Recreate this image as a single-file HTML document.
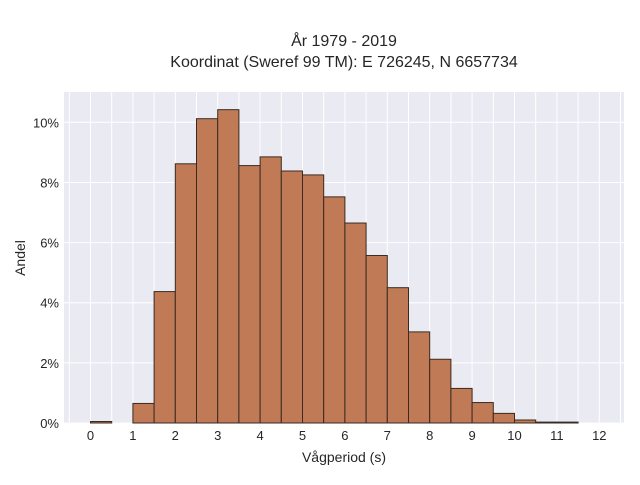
<!DOCTYPE html>
<html><head><meta charset="utf-8"><style>
body{margin:0;background:#fff;font-family:"Liberation Sans",sans-serif;}
svg text{font-family:"Liberation Sans",sans-serif;fill:#262626;}
</style></head><body>
<svg id="chart" width="640" height="480" xmlns="http://www.w3.org/2000/svg">
<text x="344" y="46" text-anchor="middle" font-size="16">År 1979 - 2019</text>
<text x="344" y="67" text-anchor="middle" font-size="16">Koordinat (Sweref 99 TM): E 726245, N 6657734</text>
<rect x="64" y="92" width="560" height="331" fill="#eaeaf2"/>
<g id="grid"></g><g id="bars"></g><g id="ticks"></g>
<text x="344" y="462" text-anchor="middle" font-size="14">Vågperiod (s)</text>
<text transform="translate(25,258) rotate(-90)" text-anchor="middle" font-size="14">Andel</text>
</svg>
<script>
const binStarts=[0,0.5,1,1.5,2,2.5,3,3.5,4,4.5,5,5.5,6,6.5,7,7.5,8,8.5,9,9.5,10,10.5,11];
const shares=[0.05,0,0.65,4.37,8.62,10.12,10.42,8.56,8.85,8.38,8.25,7.52,6.65,5.57,4.5,3.03,2.12,1.15,0.68,0.32,0.1,0.03,0.03];
const xTicks=[0,1,2,3,4,5,6,7,8,9,10,11,12];
const yTicks=[0,2,4,6,8,10];
const binWidth=0.5;
const NS="http://www.w3.org/2000/svg";
const X=v=>90.5+v*42.4;
const Y=v=>423-v*30.07;
const grid=document.getElementById('grid'),bars=document.getElementById('bars'),ticks=document.getElementById('ticks');
function mk(tag,attrs,parent){const e=document.createElementNS(NS,tag);for(const k in attrs)e.setAttribute(k,attrs[k]);parent.appendChild(e);return e;}
for(let v=-0.5;v<=12.5;v+=0.5){
 const l=mk('line',{x1:X(v),x2:X(v),y1:92,y2:423,stroke:'#fff','stroke-width':1},grid);
 
 
}
yTicks.forEach(t=>{
 const l=mk('line',{x1:64,x2:624,y1:Y(t),y2:Y(t),stroke:'#fff','stroke-width':1},grid);
 
 
 const tx=mk('text',{x:59,y:Y(t)+5,'text-anchor':'end','font-size':13},ticks);
 tx.textContent=t+'%';
 
 
});
xTicks.forEach(t=>{
 const tx=mk('text',{x:X(t),y:440,'text-anchor':'middle','font-size':13},ticks);
 tx.textContent=t;
 
 
});
binStarts.forEach((b,i)=>{
 const h=shares[i];
 const r=mk('rect',{x:X(b),y:Y(h),width:X(b+binWidth)-X(b),height:Y(0)-Y(h),fill:'#c07b56',stroke:'#3a2a20','stroke-width':1},bars);
 
 
});
</script>
</body></html>
